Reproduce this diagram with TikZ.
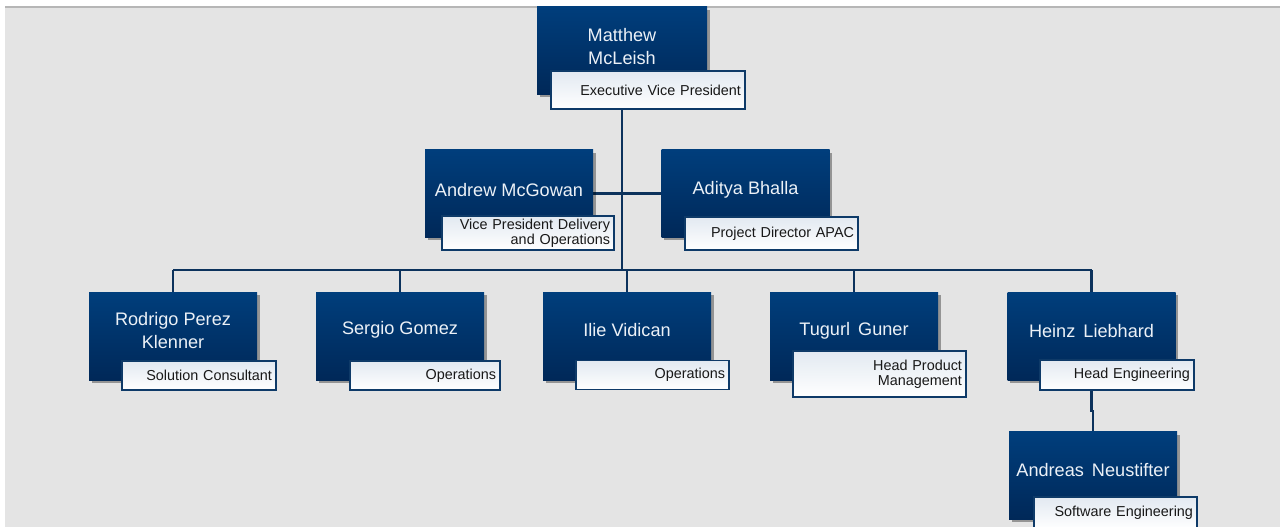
\documentclass[tikz,border=0pt]{standalone}
\usepackage{fontspec}
\setmainfont{Liberation Sans}
\usetikzlibrary{shadows,backgrounds}

\definecolor{pagegray}{RGB}{228,228,228}
\definecolor{rulegray}{RGB}{182,182,182}
\definecolor{boxtop}{RGB}{0,62,124}
\definecolor{boxbot}{RGB}{0,40,88}
\definecolor{linkblue}{RGB}{12,50,92}
\definecolor{edgeblue}{RGB}{14,58,104}
\definecolor{tagtint}{RGB}{226,233,241}
\definecolor{nameink}{RGB}{236,241,247}
\definecolor{tagink}{RGB}{24,24,24}

\tikzset{
  namebox/.style={rectangle, inner sep=0pt, minimum width=126pt, minimum height=65.5pt,
    top color=boxtop, bottom color=boxbot,
    drop shadow={shadow xshift=2.2pt, shadow yshift=-2.2pt, opacity=0.35, fill=black}},
  nametext/.style={inner sep=0pt, align=center, text=nameink,
    font=\fontsize{13.6pt}{16.8pt}\selectfont},
  tagbox/.style={rectangle, draw=edgeblue, line width=1.4pt, top color=tagtint, bottom color=white,
    inner xsep=3pt, inner ysep=0pt, align=right, text=tagink,
    font=\fontsize{10.8pt}{11.4pt}\selectfont},
  link/.style={draw=linkblue, line width=1.6pt}
}

\begin{document}
\begin{tikzpicture}[x=0.75pt,y=-0.75pt]
\useasboundingbox (0,0) rectangle (1280,527);

% --- people: name boxes ---
\node[namebox, minimum width=127.5pt] (mm) at (622,50.5) {};
\node[namebox] (am) at (509,193.5) {};
\node[namebox] (ab) at (745.5,193.5) {};
\node[namebox, minimum height=66pt] (rp) at (173,336) {};
\node[namebox, minimum height=66pt] (sg) at (400,336) {};
\node[namebox, minimum height=66pt] (iv) at (627,336) {};
\node[namebox, minimum height=66pt] (tg) at (854,336) {};
\node[namebox, minimum height=66pt] (hl) at (1091.5,336) {};
\node[namebox] (an) at (1093,475.5) {};

% --- names ---
\node[nametext] (mm-n) at ([yshift=3pt]mm.center) {Matthew\\McLeish};
\node[nametext] (am-n) at ([yshift=2.6pt]am.center) {Andrew McGowan};
\node[nametext] (ab-n) at ([yshift=2.6pt]ab.center) {Aditya Bhalla};
\node[nametext] (rp-n) at ([yshift=4pt]rp.center) {Rodrigo Perez\\Klenner};
\node[nametext] (sg-n) at ([yshift=4.4pt]sg.center) {Sergio Gomez};
\node[nametext] (iv-n) at ([yshift=4.4pt]iv.center) {Ilie Vidican};
\node[nametext] (tg-n) at ([yshift=3.8pt]tg.center) {Tugurl\, Guner};
\node[nametext] (hl-n) at ([yshift=3.8pt]hl.center) {Heinz\, Liebhard};
\node[nametext] (an-n) at ([yshift=4.1pt]an.center) {Andreas\, Neustifter};

% --- job titles ---
\node[tagbox, text width=139.5pt, minimum height=28.5pt] (mm-t) at (648,90) {Executive Vice President};
\node[tagbox, text width=123pt, minimum height=25.5pt] (am-t) at (528,233) {Vice President Delivery\\and Operations};
\node[tagbox, text width=123.75pt, minimum height=24.75pt] (ab-t) at (771.5,233.5) {Project Director APAC};
\node[tagbox, text width=109.5pt, minimum height=21.75pt] (rp-t) at (199,375.5) {Solution Consultant};
\node[tagbox, text width=106.5pt, minimum height=21.75pt] (sg-t) at (425,375.5) {Operations};
\node[tagbox, text width=108.75pt, minimum height=21.75pt] (iv-t) at (652.5,375) {Operations};
\node[tagbox, text width=123.75pt, minimum height=34.5pt] (tg-t) at (879.5,374) {Head Product\\Management};
\node[tagbox, text width=109.5pt, minimum height=22.5pt] (hl-t) at (1117,375) {Head Engineering};
\node[tagbox, text width=116.25pt, minimum height=24pt] (an-t) at (1115.5,513) {Software Engineering};

% --- reporting lines and page backdrop ---
\coordinate (bus) at (0,270);
\coordinate (jog) at (0,411);
\begin{scope}[on background layer]
  \fill[white] (0,0) rectangle (1280,527);
  \fill[pagegray] (5,7) rectangle (1280,527);
  \draw[rulegray, line width=0.9pt] (5,7) -- (1280,7);

  \draw[link] (mm.south) -- (mm.south |- bus);
  \draw[link] (am.east) -- (ab.west);
  \draw[link] (rp.north |- bus) -- (hl.north |- bus);
  \draw[link] (rp.north) -- (rp.north |- bus);
  \draw[link] (sg.north) -- (sg.north |- bus);
  \draw[link] (iv.north) -- (iv.north |- bus);
  \draw[link] (tg.north) -- (tg.north |- bus);
  \draw[link] (hl.north) -- (hl.north |- bus);
  \draw[link] (hl.south) -- (hl.south |- jog) -- (an.north |- jog) -- (an.north);
\end{scope}
\end{tikzpicture}
\end{document}
